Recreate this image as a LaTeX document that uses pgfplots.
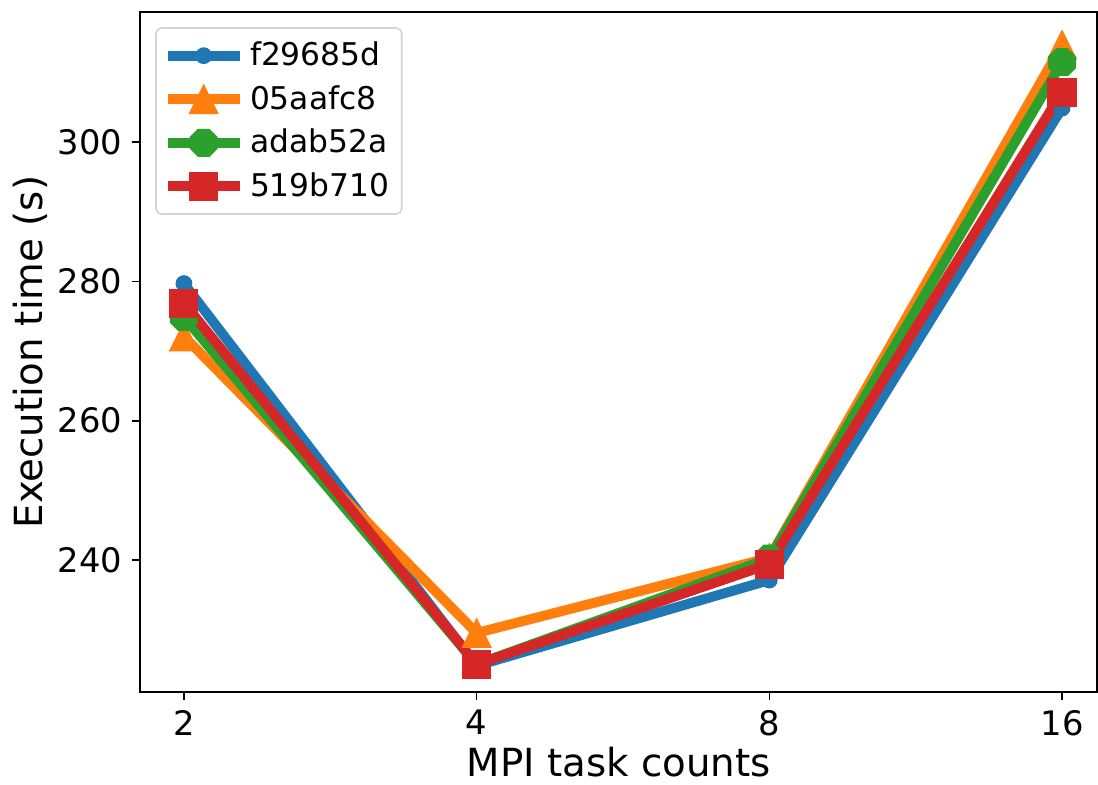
\documentclass[border=0pt]{standalone}
\usepackage{pgfplots}
\pgfplotsset{compat=1.18}
\usepackage{fontspec}
\setmainfont{DejaVu Sans}
\definecolor{c1}{HTML}{1F77B4}
\definecolor{c2}{HTML}{FF7F0E}
\definecolor{c3}{HTML}{2CA02C}
\definecolor{c4}{HTML}{D62728}
\pgfdeclareplotmark{mtri}{%
  \pgfpathmoveto{\pgfqpoint{0pt}{\pgfplotmarksize}}%
  \pgfpathlineto{\pgfqpoint{-\pgfplotmarksize}{-\pgfplotmarksize}}%
  \pgfpathlineto{\pgfqpoint{\pgfplotmarksize}{-\pgfplotmarksize}}%
  \pgfpathclose\pgfusepathqfillstroke}
\pgfdeclareplotmark{oct}{%
  \pgfpathmoveto{\pgfpointpolar{22.5}{\pgfplotmarksize}}%
  \pgfpathlineto{\pgfpointpolar{67.5}{\pgfplotmarksize}}%
  \pgfpathlineto{\pgfpointpolar{112.5}{\pgfplotmarksize}}%
  \pgfpathlineto{\pgfpointpolar{157.5}{\pgfplotmarksize}}%
  \pgfpathlineto{\pgfpointpolar{202.5}{\pgfplotmarksize}}%
  \pgfpathlineto{\pgfpointpolar{247.5}{\pgfplotmarksize}}%
  \pgfpathlineto{\pgfpointpolar{292.5}{\pgfplotmarksize}}%
  \pgfpathlineto{\pgfpointpolar{337.5}{\pgfplotmarksize}}%
  \pgfpathclose\pgfusepathqfillstroke}
\begin{document}
\begin{tikzpicture}
\begin{axis}[
  scale only axis,
  width=348.6pt, height=247.7pt,
  xmin=-0.15, xmax=3.12,
  ymin=221, ymax=318.7,
  xtick={0,1,2,3},
  xticklabels={2,4,8,16},
  ytick={240,260,280,300},
  tick align=outside,
  tick pos=left,
  major tick length=3pt,
  axis line style={line width=0.6pt},
  every tick/.style={black, line width=0.6pt},
  /pgf/number format/assume math mode=true,
  ticklabel style={font=\fontsize{12.3}{14}\selectfont},
  xlabel={MPI task counts},
  ylabel={Execution time (s)},
  label style={font=\fontsize{14.1}{16}\selectfont},
  xlabel style={at={(axis description cs:0.5,0)}, anchor=base, yshift=-30.8pt, inner sep=0pt},
  ylabel style={at={(axis description cs:0,0.5)}, anchor=north, yshift=46.3pt, inner sep=0pt},
  legend style={at={(0,1)}, anchor=north west, xshift=5.5pt, yshift=-5.5pt,
    font=\fontsize{11.4}{16}\selectfont,
    draw=black!17, rounded corners=2pt, line width=0.6pt,
    row sep=1.7pt, inner xsep=2.5pt, inner ysep=3pt},
  legend cell align=left,
  legend image code/.code={\draw[mark repeat=2,mark phase=2,#1] plot coordinates {(0cm,0cm) (0.46cm,0cm) (0.92cm,0cm)};},
  every axis plot/.append style={line width=3.6pt, line join=round},
]
\addplot[c1, mark=*, mark size=2.85pt, mark options={line width=0.4pt, fill=c1}] coordinates {(0,279.7) (1,224.8) (2,237.1) (3,304.9)};
\addlegendentry{f29685d}
\addplot[c2, mark=mtri, mark size=5.2pt, mark options={line width=0.4pt, fill=c2, line join=miter}] coordinates {(0,272.1) (1,229.5) (2,240.3) (3,314.0)};
\addlegendentry{05aafc8}
\addplot[c3, mark=oct, mark size=5.3pt, mark options={line width=0.4pt, fill=c3, line join=miter}] coordinates {(0,274.9) (1,225.0) (2,240.2) (3,311.5)};
\addlegendentry{adab52a}
\addplot[c4, mark=square*, mark size=5.1pt, mark options={line width=0.4pt, fill=c4, line join=miter}] coordinates {(0,276.9) (1,225.0) (2,239.4) (3,307.2)};
\addlegendentry{519b710}
\end{axis}
\pgfresetboundingbox
\path[use as bounding box] ([shift={(-51pt,-33.6pt)}]current axis.south west) rectangle ([shift={(0.3pt,4.4pt)}]current axis.north east);
\end{tikzpicture}
\end{document}
